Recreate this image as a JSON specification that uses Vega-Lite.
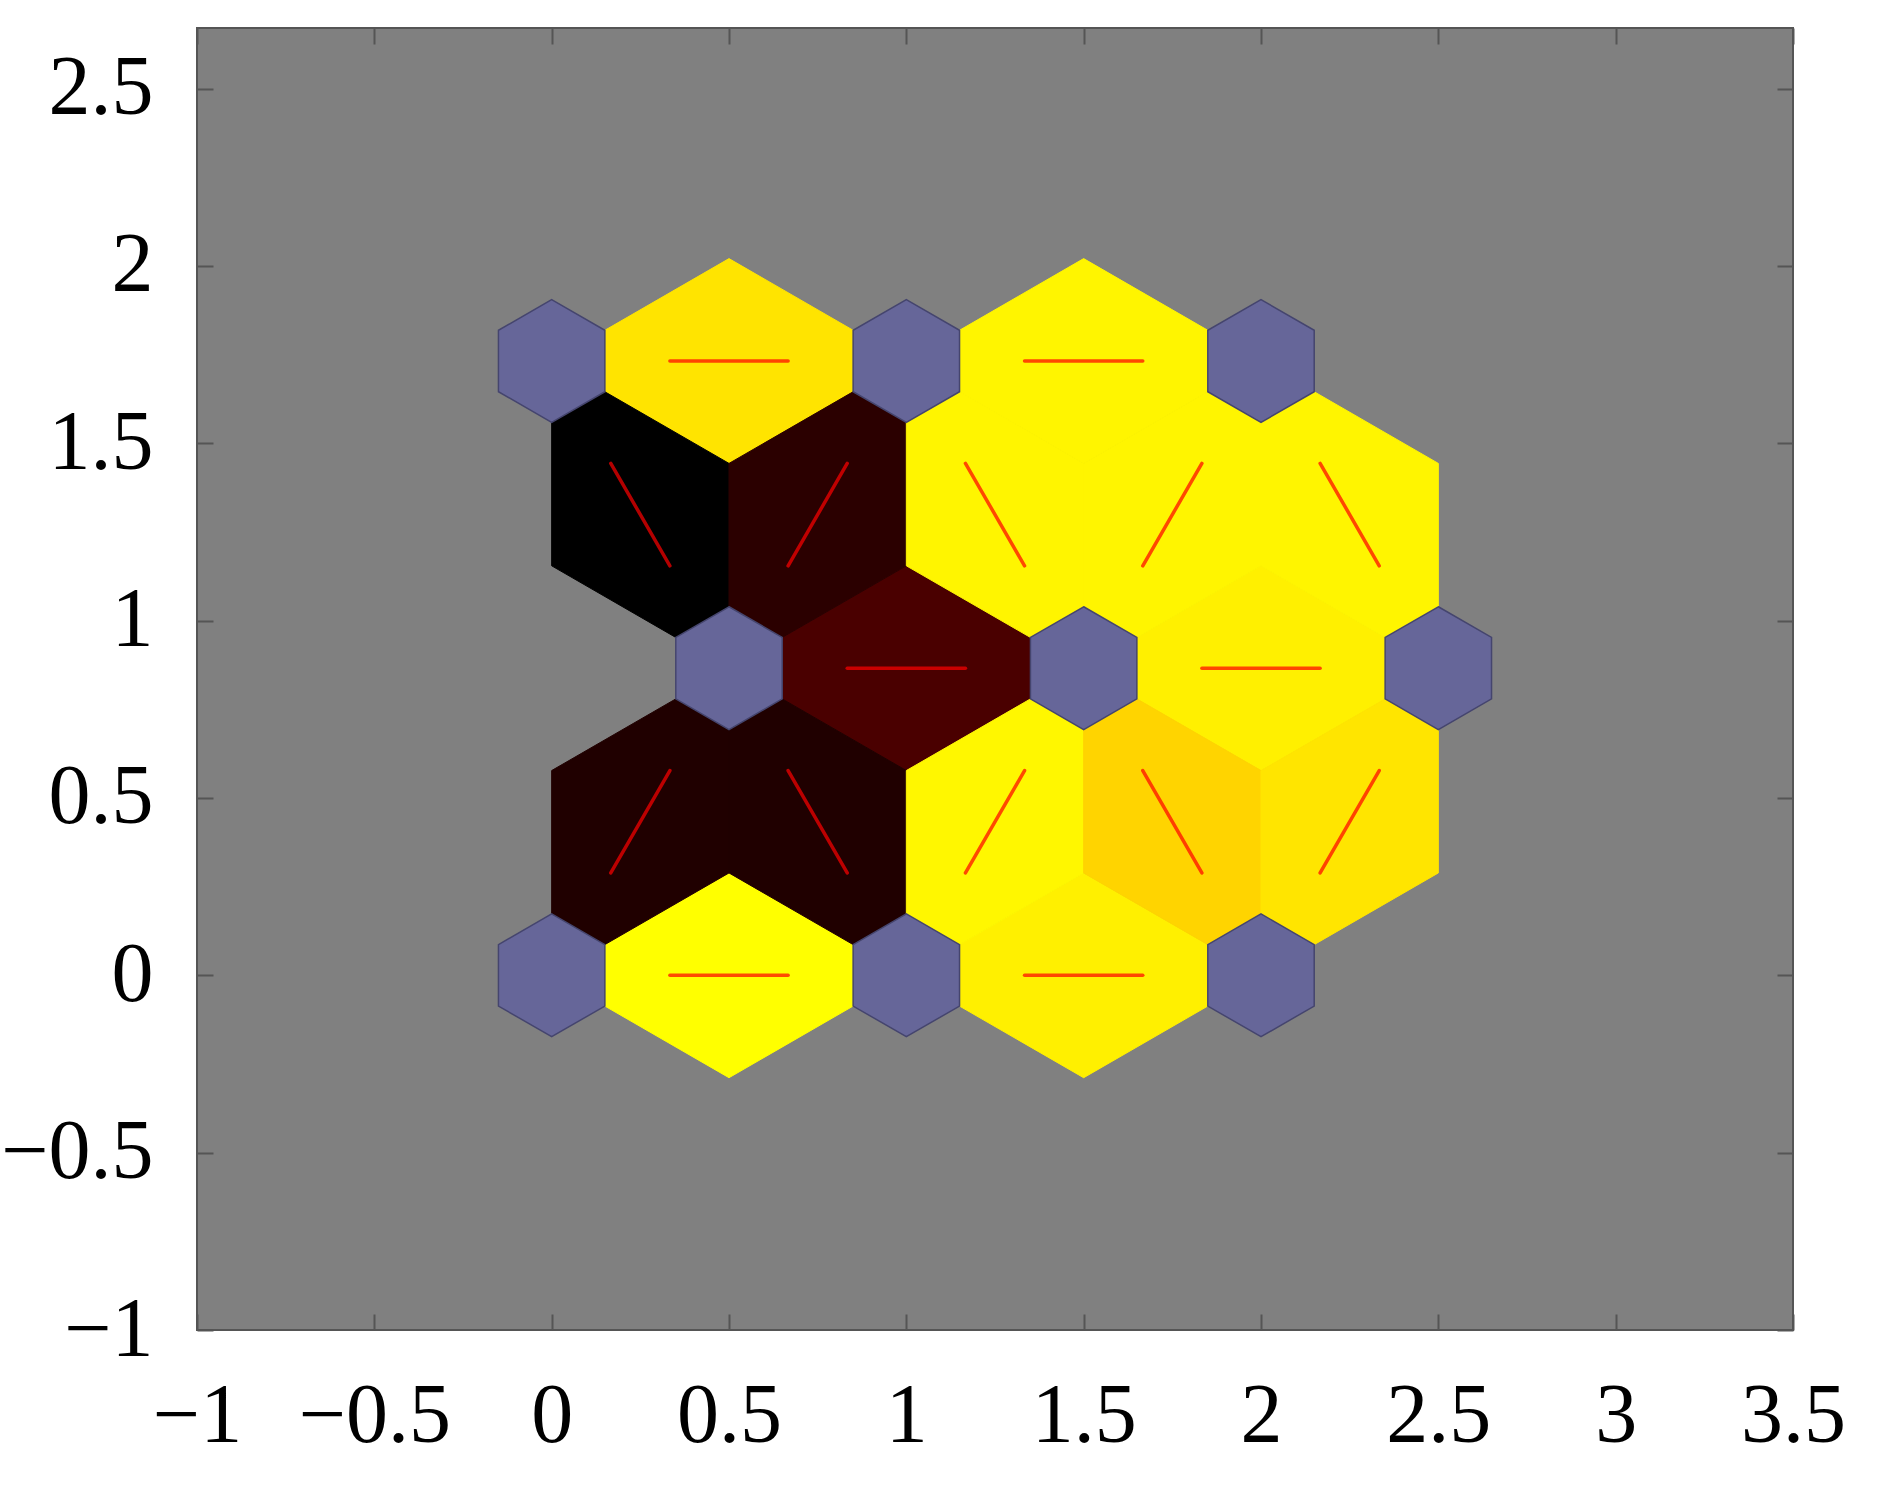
{
  "$schema": "https://vega.github.io/schema/vega-lite/v6.json",
  "width": 1596,
  "height": 1302,
  "autosize": {"type": "none"},
  "padding": {"left": 197, "top": 28, "right": 88, "bottom": 155},
  "background": "#ffffff",
  "config": {
    "view": {"fill": "#808080", "stroke": "#555555", "strokeWidth": 2},
    "axis": {"grid": false, "title": null, "domain": false, "labelFont": "Liberation Serif", "labelFontSize": 84, "labelColor": "#000000", "tickColor": "#555555", "tickWidth": 2, "format": "~g", "labelOverlap": false, "labelFlush": false}
  },
  "datasets": {
    "edges": [
      {"x": 0.5, "y": 0, "dir": "h", "level": 1.0},
      {"x": 1.5, "y": 0, "dir": "h", "level": 0.97},
      {"x": 1.0, "y": 0.866, "dir": "h", "level": 0.145},
      {"x": 2.0, "y": 0.866, "dir": "h", "level": 0.97},
      {"x": 0.5, "y": 1.7321, "dir": "h", "level": 0.947},
      {"x": 1.5, "y": 1.7321, "dir": "h", "level": 0.98},
      {"x": 0.25, "y": 0.433, "dir": "u", "level": 0.063},
      {"x": 0.75, "y": 0.433, "dir": "d", "level": 0.063},
      {"x": 1.25, "y": 0.433, "dir": "u", "level": 0.985},
      {"x": 1.75, "y": 0.433, "dir": "d", "level": 0.916},
      {"x": 2.25, "y": 0.433, "dir": "u", "level": 0.95},
      {"x": 0.25, "y": 1.299, "dir": "d", "level": 0.0},
      {"x": 0.75, "y": 1.299, "dir": "u", "level": 0.084},
      {"x": 1.25, "y": 1.299, "dir": "d", "level": 0.98},
      {"x": 1.75, "y": 1.299, "dir": "u", "level": 0.98},
      {"x": 2.25, "y": 1.299, "dir": "d", "level": 0.98}
    ],
    "nodes": [
      {"x": 0, "y": 0}, {"x": 1, "y": 0}, {"x": 2, "y": 0},
      {"x": 0.5, "y": 0.866}, {"x": 1.5, "y": 0.866}, {"x": 2.5, "y": 0.866},
      {"x": 0, "y": 1.7321}, {"x": 1, "y": 1.7321}, {"x": 2, "y": 1.7321}
    ]
  },
  "layer": [
    {
      "data": {"name": "edges"},
      "mark": {"type": "point", "filled": true, "opacity": 1, "size": 125790, "strokeWidth": 1},
      "encoding": {
        "x": {"field": "x", "type": "quantitative", "scale": {"domain": [-1, 3.5], "nice": false, "zero": false},
              "axis": {"orient": "bottom", "values": [-1, -0.5, 0, 0.5, 1, 1.5, 2, 2.5, 3, 3.5], "ticks": false, "labelPadding": 45}},
        "y": {"field": "y", "type": "quantitative", "scale": {"domain": [-1, 2.671], "nice": false, "zero": false},
              "axis": {"orient": "left", "values": [-1, -0.5, 0, 0.5, 1, 1.5, 2, 2.5], "ticks": false, "labelPadding": 44}},
        "shape": {"field": "dir", "type": "nominal", "legend": null,
                  "scale": {"domain": ["h", "u", "d"], "range": ["M-1,0L0,-0.57735L1,0L0,0.57735Z", "M0.5,-0.866L-0.5,-0.28868L-0.5,0.866L0.5,0.28868Z", "M0.5,0.866L0.5,-0.28868L-0.5,-0.866L-0.5,0.28868Z"]}},
        "color": {"field": "level", "type": "quantitative", "legend": null,
                  "scale": {"domain": [0, 0.5, 1], "range": ["#000000", "#ff0000", "#ffff00"], "interpolate": "rgb"}},
        "stroke": {"field": "level", "type": "quantitative", "legend": null,
                  "scale": {"domain": [0, 0.5, 1], "range": ["#000000", "#ff0000", "#ffff00"], "interpolate": "rgb"}}
      }
    },
    {
      "data": {"name": "edges"},
      "mark": {"type": "point", "filled": false, "size": 125790, "strokeWidth": 3.5, "strokeCap": "round", "color": "#ff0000", "opacity": 0.7},
      "encoding": {
        "x": {"field": "x", "type": "quantitative", "axis": {"orient": "bottom", "values": [-1, -0.5, 0, 0.5, 1, 1.5, 2, 2.5, 3, 3.5], "labels": false, "tickSize": -16}},
        "y": {"field": "y", "type": "quantitative", "axis": {"orient": "left", "values": [-1, -0.5, 0, 0.5, 1, 1.5, 2, 2.5], "labels": false, "tickSize": -16}},
        "shape": {"field": "dir", "type": "nominal", "legend": null,
                  "scale": {"domain": ["h", "u", "d"], "range": ["M-0.33333,0L0.33333,0", "M-0.16667,0.28868L0.16667,-0.28868", "M-0.16667,-0.28868L0.16667,0.28868"]}}
      }
    },
    {
      "data": {"name": "nodes"},
      "mark": {"type": "point", "filled": true, "opacity": 1, "size": 125790, "color": "#666699", "stroke": "#45456e", "strokeWidth": 1.5,
               "shape": "M0,-0.34641L0.3,-0.17321L0.3,0.17321L0,0.34641L-0.3,0.17321L-0.3,-0.17321Z"},
      "encoding": {
        "x": {"field": "x", "type": "quantitative", "axis": {"orient": "top", "values": [-1, -0.5, 0, 0.5, 1, 1.5, 2, 2.5, 3, 3.5], "labels": false, "tickSize": -16}},
        "y": {"field": "y", "type": "quantitative", "axis": {"orient": "right", "values": [-1, -0.5, 0, 0.5, 1, 1.5, 2, 2.5], "labels": false, "tickSize": -16}}
      }
    }
  ],
  "resolve": {"scale": {"shape": "independent", "color": "independent", "stroke": "independent"}, "axis": {"x": "independent", "y": "independent"}}
}
